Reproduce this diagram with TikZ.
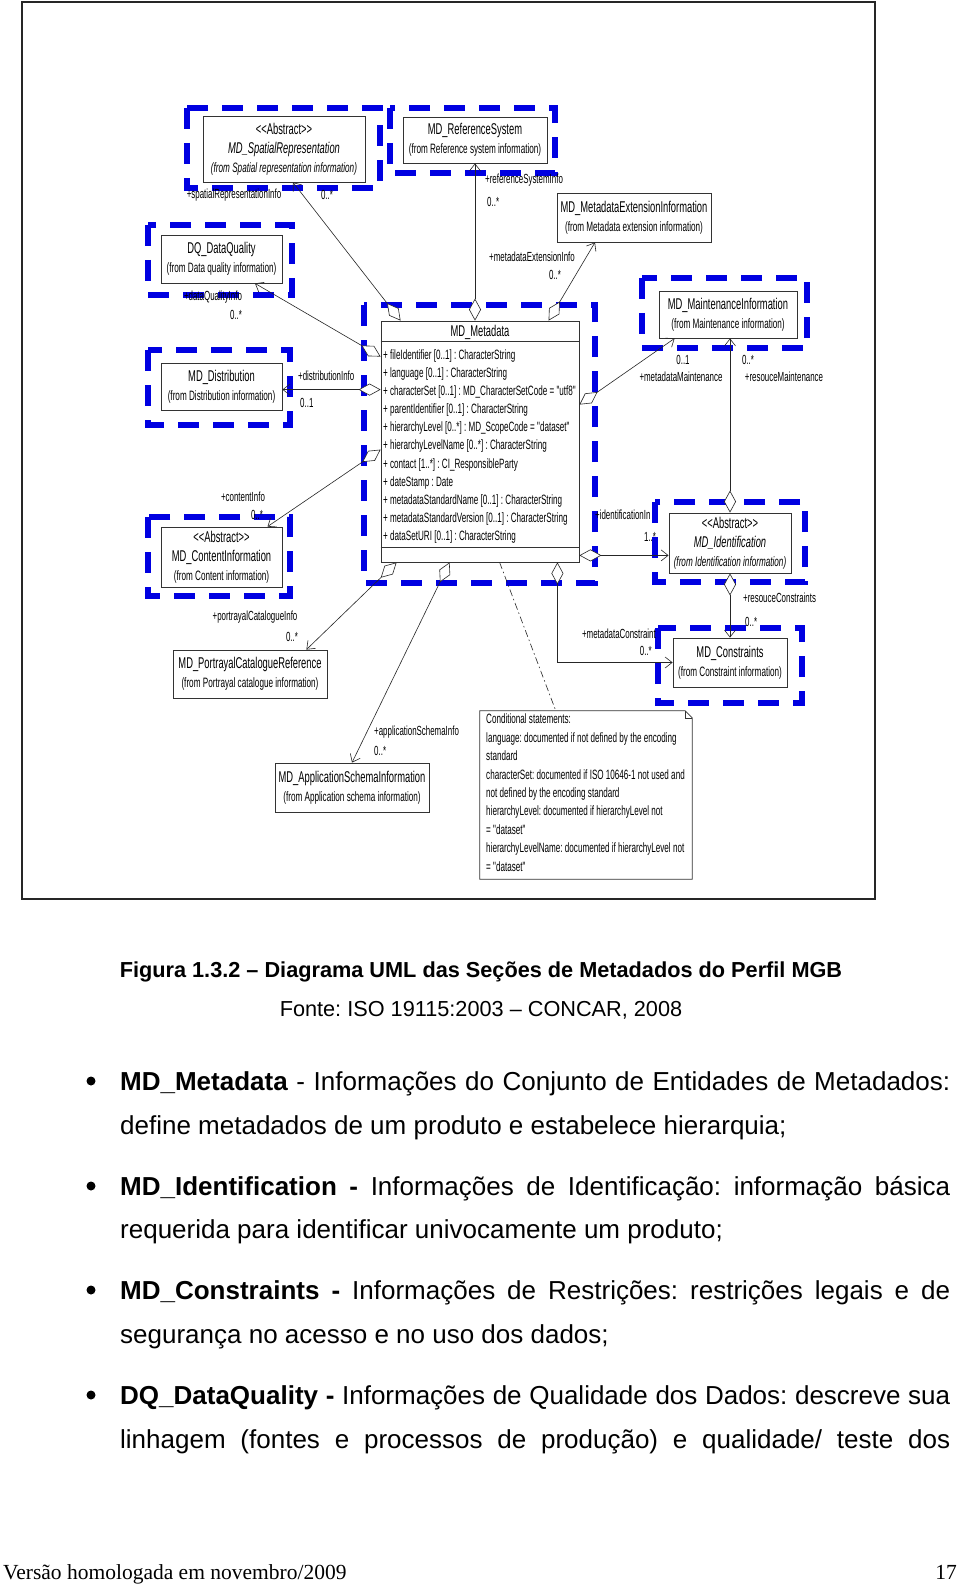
\documentclass[tikz,border=0pt]{standalone}
\usepackage{fontspec}
\setmainfont{Liberation Sans}
\newfontfamily\dfont[FakeStretch=0.6]{Liberation Sans}
\newfontfamily\serifft{Liberation Serif}
\usetikzlibrary{arrows.meta,calc}
\definecolor{dblue}{RGB}{0,0,225}
\newcommand\fromf{\fontsize{13.6}{19}\selectfont}
\frenchspacing
\begin{document}
\begin{tikzpicture}[x=1pt,y=-1pt,
  cls/.style={draw=black!80, line width=0.8pt, fill=white, inner sep=0pt, align=center,
              font=\dfont\fontsize{15.6}{19}\selectfont},
  dbox/.style={draw=dblue, line width=5.5pt, dash pattern=on 21pt off 14pt},
  conn/.style={draw=black!85, line width=0.6pt},
  agg/.style={conn, {Diamond[fill=white,length=22pt,width=12pt,line width=0.6pt]}-{Straight Barb[length=7pt,width=11pt,line width=0.6pt]}},
  lbl/.style={inner sep=0pt, font=\dfont\fontsize{13.2}{15}\selectfont},
  btext/.style={anchor=base west, inner sep=0pt, font=\fontsize{26}{30}\selectfont},
  bull/.style={circle, fill=black, inner sep=0pt, minimum size=9pt}
]
\useasboundingbox (0,0) rectangle (960,1586);
\fill[white] (0,0) rectangle (960,1586);

% outer frame
\draw[black!85, line width=2pt] (22,2) rectangle (875,899);

% blue dashed package outlines
\draw[dbox] (187,108) rectangle (380,188);
\draw[dbox] (390,108) rectangle (555,173);
\draw[dbox] (148,225) rectangle (292,295);
\draw[dbox] (642,278) rectangle (807,348);
\draw[dbox] (148,350) rectangle (290,425);
\draw[dbox] (364,305) rectangle (595,583);
\draw[dbox] (148,517) rectangle (290,596);
\draw[dbox] (655,502) rectangle (805,582);
\draw[dbox] (658,628) rectangle (802,703);

% classes
\node[cls, minimum width=162pt, minimum height=66pt] (SR) at (284,149)
  {<{}<Abstract>{}>\\ \itshape MD\_SpatialRepresentation\\ {\fromf\itshape (from Spatial representation information)}};
\node[cls, minimum width=144pt, minimum height=46pt] (RS) at (475,140)
  {MD\_ReferenceSystem\\ {\fromf (from Reference system information)}};
\node[cls, minimum width=154pt, minimum height=49pt] (ME) at (634,217.5)
  {MD\_MetadataExtensionInformation\\ {\fromf (from Metadata extension information)}};
\node[cls, minimum width=121pt, minimum height=48pt] (DQ) at (221.5,259)
  {DQ\_DataQuality\\ {\fromf (from Data quality information)}};
\node[cls, minimum width=138pt, minimum height=47pt] (MI) at (728,314.5)
  {MD\_MaintenanceInformation\\ {\fromf (from Maintenance information)}};
\node[cls, minimum width=121pt, minimum height=47pt] (DI) at (221.5,386.5)
  {MD\_Distribution\\ {\fromf (from Distribution information)}};
\node[cls, minimum width=121pt, minimum height=60pt] (CI) at (221.5,557)
  {<{}<Abstract>{}>\\ MD\_ContentInformation\\ {\fromf (from Content information)}};
\node[cls, minimum width=122pt, minimum height=60pt] (ID) at (730,543)
  {<{}<Abstract>{}>\\ \itshape MD\_Identification\\ {\fromf\itshape (from Identification information)}};
\node[cls, minimum width=114pt, minimum height=49pt] (CN) at (730,662.5)
  {MD\_Constraints\\ {\fromf (from Constraint information)}};
\node[cls, minimum width=154pt, minimum height=48pt] (PC) at (250,674)
  {MD\_PortrayalCatalogueReference\\ {\fromf (from Portrayal catalogue information)}};
\node[cls, minimum width=154pt, minimum height=49pt] (AS) at (352,787.5)
  {MD\_ApplicationSchemaInformation\\ {\fromf (from Application schema information)}};

% MD_Metadata
\node[cls, minimum width=198pt, minimum height=241pt] (MD) at (480,441.5) {};
\draw[black!80, line width=0.8pt] ($(MD.north west)+(0,21)$) -- ($(MD.north east)+(0,21)$);
\draw[black!80, line width=0.8pt] ($(MD.south west)+(0,-15)$) -- ($(MD.south east)+(0,-15)$);
\node[inner sep=0pt, font=\dfont\fontsize{15.6}{18}\selectfont] (MDt) at (480,332) {MD\_Metadata};
\node[anchor=west, inner sep=0pt, align=left, font=\dfont\fontsize{13.5}{18.1}\selectfont] (MDa) at (383,446.5)
  {+ fileIdentifier [0..1] : CharacterString\\
   + language [0..1] : CharacterString\\
   + characterSet [0..1] : MD\_CharacterSetCode = "utf8"\\
   + parentIdentifier [0..1] : CharacterString\\
   + hierarchyLevel [0..*] : MD\_ScopeCode = "dataset"\\
   + hierarchyLevelName [0..*] : CharacterString\\
   + contact [1..*] : CI\_ResponsibleParty\\
   + dateStamp : Date\\
   + metadataStandardName [0..1] : CharacterString\\
   + metadataStandardVersion [0..1] : CharacterString\\
   + dataSetURI [0..1] : CharacterString};

% note
\node[minimum width=212pt, minimum height=168pt, inner sep=0pt] (NT) at (586,795) {};
\draw[black!80, line width=0.8pt, fill=white] (NT.north west) -- ($(NT.north east)+(-7,0)$) -- ($(NT.north east)+(0,7)$)
  -- (NT.south east) -- (NT.south west) -- cycle;
\draw[black!80, line width=0.6pt] ($(NT.north east)+(-7,0)$) -- ($(NT.north east)+(-7,7)$) -- ($(NT.north east)+(0,7)$);
\node[anchor=north west, inner sep=0pt, align=left, font=\dfont\fontsize{13.5}{18.4}\selectfont] (NTt) at (486,714)
  {Conditional statements:\\
   language: documented if not defined by the encoding\\
   standard\\
   characterSet: documented if ISO 10646-1 not used and\\
   not defined by the encoding standard\\
   hierarchyLevel: documented if hierarchyLevel not\\
   = "dataset"\\
   hierarchyLevelName: documented if hierarchyLevel not\\
   = "dataset"};

% connectors
\draw[agg] ($(MD.north west)+(20,0)$) -- ($(SR.south)+(9,0)$);
\draw[agg] (RS.south |- MD.north) -- (RS.south);
\draw[agg] ($(MD.north west)+(168,0)$) -- ($(ME.south)+(-39,0)$);
\draw[agg] ($(MD.north west)+(0,36)$) -- ($(DQ.south)+(33.5,0)$);
\coordinate (e1) at ($(MD.north west)+(0,69)$);
\draw[agg] (e1) -- (e1 -| DI.east);
\draw[agg] ($(MD.north west)+(0,129)$) -- ($(CI.north)+(46,0)$);
\draw[agg] ($(MD.north east)+(0,84)$) -- ($(MI.south west)+(16,0)$);
\draw[agg] (ID.north) -- (ID.north |- MI.south);
\coordinate (i1) at ($(MD.south east)+(0,-7)$);
\draw[agg] (i1) -- (i1 -| ID.west);
\draw[agg] (ID.south) -- (CN.north);
\draw[agg] ($(MD.south east)+(-22,0)$) |- (CN.west);
\draw[agg] ($(MD.south west)+(16,0)$) -- ($(PC.north east)+(-21,0)$);
\draw[agg] ($(MD.south west)+(69,0)$) -- (AS.north);
\draw[conn, dash pattern=on 7pt off 3pt on 1.5pt off 3pt] ($(MD.south west)+(119,0)$) -- ($(NT.north west)+(76,0)$);

% role labels
\node[lbl] (l1) at (234,195) {+spatialRepresentationInfo};
\node[lbl] (l2) at (327,195) {0..*};
\node[lbl, anchor=west] (l3) at (485,180) {+referenceSystemInfo};
\node[lbl, anchor=west] (l4) at (487,202) {0..*};
\node[lbl] (l5) at (532,257) {+metadataExtensionInfo};
\node[lbl] (l6) at (555,275) {0..*};
\node[lbl] (l7) at (213,297) {+dataQualityInfo};
\node[lbl] (l8) at (236,315) {0..*};
\node[lbl, anchor=west] (l9) at (298,376) {+distributionInfo};
\node[lbl, anchor=west] (l10) at (300,403) {0..1};
\node[lbl] (l11) at (243,497) {+contentInfo};
\node[lbl] (l12) at (257,515) {0..*};
\node[lbl] (l13) at (683,360) {0..1};
\node[lbl] (l14) at (681,377) {+metadataMaintenance};
\node[lbl] (l15) at (748,360) {0..*};
\node[lbl] (l16) at (784,377) {+resouceMaintenance};
\node[lbl, anchor=west] (l17) at (595,515) {+identificationIn};
\node[lbl] (l18) at (650,537) {1..*};
\node[lbl, anchor=west] (l19) at (743,598) {+resouceConstraints};
\node[lbl, anchor=west] (l20) at (745,622) {0..*};
\node[lbl, anchor=east] (l21) at (656,634) {+metadataConstraint};
\node[lbl, anchor=east] (l22) at (652,651) {0..*};
\node[lbl] (l23) at (255,617) {+portrayalCatalogueInfo};
\node[lbl] (l24) at (292,637) {0..*};
\node[lbl, anchor=west] (l25) at (374,732) {+applicationSchemaInfo};
\node[lbl, anchor=west] (l26) at (374,751) {0..*};

% caption
\node[anchor=base, inner sep=0pt, font=\fontsize{21.7}{26}\selectfont\bfseries] (cap) at (481,977)
  {Figura 1.3.2 – Diagrama UML das Seções de Metadados do Perfil MGB};
\node[anchor=base, inner sep=0pt, font=\fontsize{21.7}{26}\selectfont] (src) at (481,1016)
  {Fonte: ISO 19115:2003 – CONCAR, 2008};

% bullet list
\node[bull] (b1) at (91,1081) {};
\node[btext] (t1) at (120,1090) {\makebox[830pt][s]{\textbf{MD\_Metadata} - Informações do Conjunto de Entidades de Metadados:}};
\node[btext] (t2) at (120,1134) {define metadados de um produto e estabelece hierarquia;};
\node[bull] (b2) at (91,1186) {};
\node[btext] (t3) at (120,1195) {\makebox[830pt][s]{\textbf{MD\_Identification -} Informações de Identificação: informação básica}};
\node[btext] (t4) at (120,1238) {requerida para identificar univocamente um produto;};
\node[bull] (b3) at (91,1290) {};
\node[btext] (t5) at (120,1299) {\makebox[830pt][s]{\textbf{MD\_Constraints -} Informações de Restrições: restrições legais e de}};
\node[btext] (t6) at (120,1343) {segurança no acesso e no uso dos dados;};
\node[bull] (b4) at (91,1395) {};
\node[btext] (t7) at (120,1404) {\makebox[830pt][s]{\textbf{DQ\_DataQuality -} Informações de Qualidade dos Dados: descreve sua}};
\node[btext] (t8) at (120,1448) {\makebox[830pt][s]{linhagem (fontes e processos de produção) e qualidade/ teste dos}};

% footer
\node[anchor=base west, inner sep=0pt, font=\serifft\fontsize{21.5}{26}\selectfont] (ft) at (3,1579) {Versão homologada em novembro/2009};
\node[anchor=base east, inner sep=0pt, font=\serifft\fontsize{21.5}{26}\selectfont] (pg) at (957,1579) {17};
\end{tikzpicture}
\end{document}
